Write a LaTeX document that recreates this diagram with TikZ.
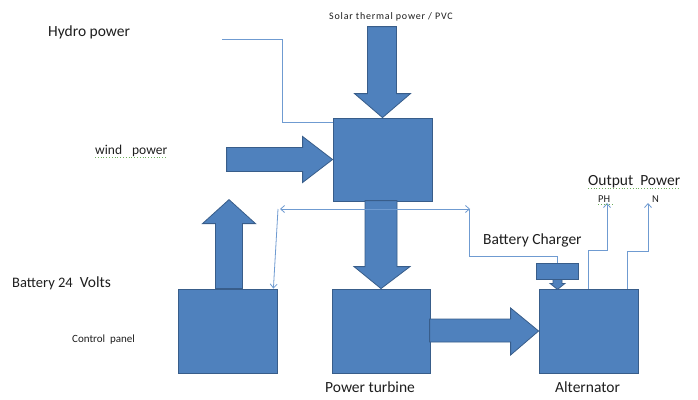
\documentclass[tikz,border=0pt]{standalone}
\usepackage{fontspec}
\setmainfont{Carlito}
\usetikzlibrary{arrows.meta,calc}
\definecolor{bfill}{HTML}{4F81BD}
\definecolor{bline}{HTML}{385D8A}
\definecolor{lline}{HTML}{6F9BD1}
\definecolor{tcol}{HTML}{1E1E1E}
\definecolor{spell}{HTML}{6BAF5A}
\begin{document}
\begin{tikzpicture}[x=1pt,y=-1pt,
  box/.style={draw=bline,fill=bfill,line width=0.8pt,inner sep=0pt},
  barrow/.style={draw=bline,fill=bfill,line width=0.8pt,line join=miter},
  thinline/.style={draw=lline,line width=0.8pt},
  arr/.style={-{Straight Barb[length=4pt,width=7pt]}},
  lbl/.style={text=tcol,inner sep=0pt,anchor=base west},
  big/.style={font=\fontsize{15.5}{18}\selectfont},
  squig/.style={draw=spell,dotted,line width=0.8pt}]
\useasboundingbox[fill=white] (0,0) rectangle (698,399);

% boxes
\node[box,minimum width=99pt,minimum height=83pt] (mix) at (382.5,159.5) {};
\node[box,minimum width=99pt,minimum height=84pt] (ctrl) at (227.5,331) {};
\node[box,minimum width=98pt,minimum height=84pt] (turb) at (381,331) {};
\node[box,minimum width=99pt,minimum height=84pt] (alt) at (588.5,331) {};
\node[box,minimum width=42pt,minimum height=16pt] (chg) at (557,271) {};

% block arrows
\draw[barrow,shift={(mix.north)}] (-15,-91) -- (14,-91) -- (14,-24) -- (28,-24) -- (0,0) -- (-28,-24) -- (-15,-24) -- cycle;
\draw[barrow,shift={(mix.west)}] (-106,-12) -- (-30,-12) -- (-30,-23) -- (0,0) -- (-30,23) -- (-30,12) -- (-106,12) -- cycle;
\draw[barrow,shift={(ctrl.north)}] (-12,0) -- (-12,-65) -- (-25,-65) -- (1.5,-89) -- (28,-65) -- (15,-65) -- (15,0) -- cycle;
\draw[barrow,shift={(turb.north)}] (-16,-88) -- (16,-88) -- (16,-22) -- (29,-22) -- (0,0) -- (-27,-22) -- (-16,-22) -- cycle;
\draw[barrow,shift={(alt.west)}] (-109,-12) -- (-28,-12) -- (-28,-23) -- (0,0) -- (-28,24) -- (-28,11) -- (-109,11) -- cycle;
\draw[barrow,shift={(chg.south)}] (-4,0) -- (5,0) -- (5,4) -- (8,4) -- (0.5,10) -- (-7,4) -- (-4,4) -- cycle;

% thin connectors
\coordinate (hs) at (222,39);
\coordinate (bl) at (280,209);
\coordinate (br) at (470,209);
\coordinate (bk) at (278,209);
\coordinate (cj) at (469,209);
\coordinate (ph) at (607,203);
\coordinate (nn) at (648,203);
\draw[thinline] (hs) -| (282,122) -- (mix.west |- 0,122);
\draw[thinline,{Straight Barb[length=4pt,width=7pt]}-{Straight Barb[length=4pt,width=7pt]}] (bl) -- (br);
\draw[thinline,arr] (bk) -- ($(ctrl.north east)+(-4,0)$);
\draw[thinline] (cj) |- (chg.north |- 0,256) -- (chg.north);
\draw[thinline,arr] (alt.north) |- (ph |- 0,250) -- (ph);
\draw[thinline,arr] ($(alt.north)+(39,0)$) |- (nn |- 0,251) -- (nn);

% labels
\node[lbl,big] (hydro) at (48,36) {Hydro power};
\node[lbl,font=\fontsize{13.5}{16}\selectfont] (wind) at (95,154) {wind\hspace{10pt}power};
\node[lbl,anchor=base,font=\fontsize{10}{12}\selectfont\addfontfeature{LetterSpace=8}] (solar) at (391,19) {Solar thermal power / PVC};
\node[lbl,big] (outp) at (588,185) {Output\ \ Power};
\node[lbl,font=\fontsize{10.5}{12}\selectfont] (phl) at (598,202) {PH};
\node[lbl,font=\fontsize{10.5}{12}\selectfont] (nl) at (652,202) {N};
\node[lbl,big] (chglab) at (483,244) {Battery Charger};
\node[lbl,big] (batt) at (12,287) {{\fontsize{14.5}{17}\selectfont Battery 24}\ \ Volts};
\node[lbl,font=\fontsize{11}{13}\selectfont] (ctrllab) at (72,342) {Control\ \ panel};
\node[lbl,big] (turblab) at (325,392) {Power turbine};
\node[lbl,big] (altlab) at (555,392) {Alternator};

% spell-check underlines
\draw[squig] ($(outp.base west)+(0,3)$) -- ($(outp.base east)+(0,3)$);
\draw[squig] ($(wind.base west)+(0,3)$) -- ($(wind.base east)+(0,3)$);
\draw[squig] ($(phl.base west)+(0,2.5)$) -- ($(phl.base east)+(3,2.5)$);
\end{tikzpicture}
\end{document}
